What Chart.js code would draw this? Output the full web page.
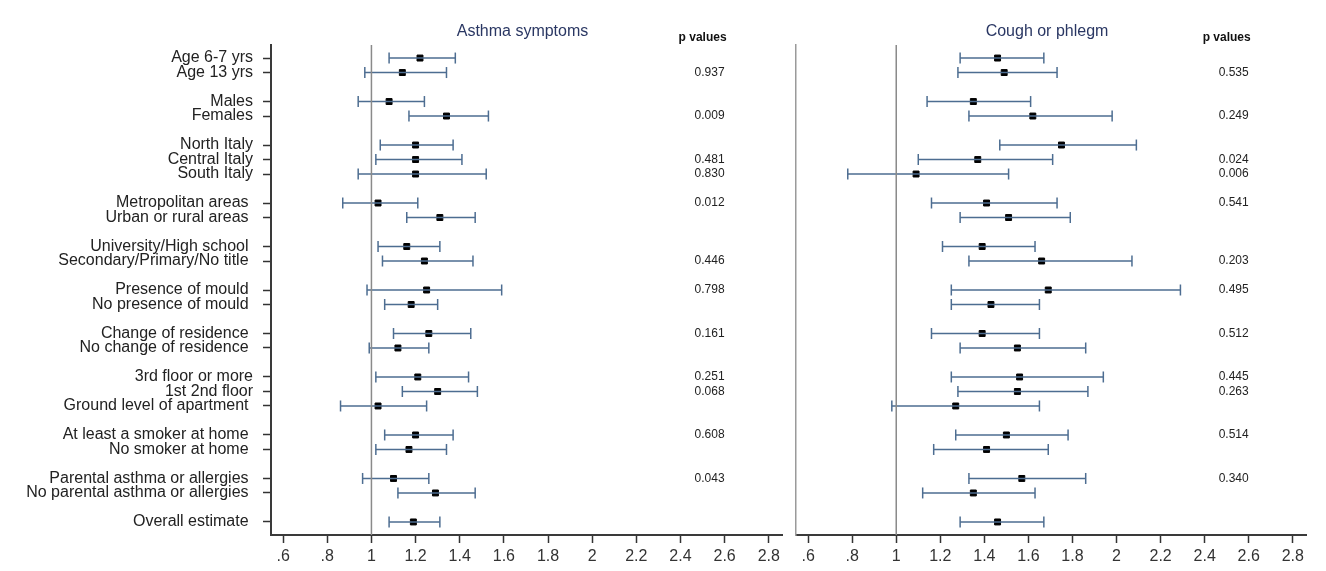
<!DOCTYPE html>
<html>
<head>
<meta charset="utf-8">
<script src="https://cdn.jsdelivr.net/npm/chart.js@4/dist/chart.umd.min.js"></script>
<style>
  body { margin: 0; background: #fff; }
  #wrap { position: relative; width: 1326px; height: 571px; }
  canvas { position: absolute; top: 0; }
  #left { left: 0; }
  #right { left: 789px; }
</style>
</head>
<body>
<div id="wrap">
  <canvas id="left" width="789" height="571"></canvas>
  <canvas id="right" width="537" height="571"></canvas>
</div>
<script>
// Row labels, grouped as in the figure (a blank row follows each group)
const groups = [
  ['Age 6-7 yrs', 'Age 13 yrs'],
  ['Males', 'Females'],
  ['North Italy', 'Central Italy', 'South Italy'],
  ['Metropolitan areas ', 'Urban or rural areas '],
  ['University/High school ', 'Secondary/Primary/No title '],
  ['Presence of mould ', 'No presence of mould '],
  ['Change of residence ', 'No change of residence '],
  ['3rd floor or more', '1st 2nd floor', 'Ground level of apartment '],
  ['At least a smoker at home ', 'No smoker at home '],
  ['Parental asthma or allergies ', 'No parental asthma or allergies '],
  ['Overall estimate ']
];

// Asthma symptoms: estimate and 95% CI
const asthmaEst = [1.22, 1.14, 1.08, 1.34, 1.20, 1.20, 1.20, 1.03, 1.31, 1.16, 1.24, 1.25, 1.18, 1.26, 1.12, 1.21, 1.30, 1.03, 1.20, 1.17, 1.10, 1.29, 1.19];
const asthmaLo  = [1.08, 0.97, 0.94, 1.17, 1.04, 1.02, 0.94, 0.87, 1.16, 1.03, 1.05, 0.98, 1.06, 1.10, 0.99, 1.02, 1.14, 0.86, 1.06, 1.02, 0.96, 1.12, 1.08];
const asthmaHi  = [1.38, 1.34, 1.24, 1.53, 1.37, 1.41, 1.52, 1.21, 1.47, 1.31, 1.46, 1.59, 1.30, 1.45, 1.26, 1.44, 1.48, 1.25, 1.37, 1.34, 1.26, 1.47, 1.31];
const asthmaP   = ['', '0.937', '', '0.009', '', '0.481', '0.830', '0.012', '', '', '0.446', '0.798', '', '0.161', '', '0.251', '0.068', '', '0.608', '', '0.043', '', ''];

// Cough or phlegm: estimate and 95% CI
const coughEst = [1.46, 1.49, 1.35, 1.62, 1.75, 1.37, 1.09, 1.41, 1.51, 1.39, 1.66, 1.69, 1.43, 1.39, 1.55, 1.56, 1.55, 1.27, 1.50, 1.41, 1.57, 1.35, 1.46];
const coughLo  = [1.29, 1.28, 1.14, 1.33, 1.47, 1.10, 0.78, 1.16, 1.29, 1.21, 1.33, 1.25, 1.25, 1.16, 1.29, 1.25, 1.28, 0.98, 1.27, 1.17, 1.33, 1.12, 1.29];
const coughHi  = [1.67, 1.73, 1.61, 1.98, 2.09, 1.71, 1.51, 1.73, 1.79, 1.63, 2.07, 2.29, 1.65, 1.65, 1.86, 1.94, 1.87, 1.65, 1.78, 1.69, 1.86, 1.63, 1.67];
const coughP   = ['', '0.535', '', '0.249', '', '0.024', '0.006', '0.541', '', '', '0.203', '0.495', '', '0.512', '', '0.445', '0.263', '', '0.514', '', '0.340', '', ''];

// x axis ticks
const xTicks = [0.6, 0.8, 1, 1.2, 1.4, 1.6, 1.8, 2, 2.2, 2.4, 2.6, 2.8];
const xTickLabels = ['.6', '.8', '1', '1.2', '1.4', '1.6', '1.8', '2', '2.2', '2.4', '2.6', '2.8'];

// work out a row slot for every label, leaving a gap between groups
const labels = [];
const slots = [];
let slot = 0;
groups.forEach(g => {
  g.forEach(l => { labels.push(l); slots.push(slot); slot++; });
  slot++;
});
const yMin = -0.9;
const yMax = slots[slots.length - 1] + 0.9;
const pAt = 2.6;

const ciColor = '#4d6d91';

function buildDatasets(est, lo, hi) {
  const sets = [];
  // reference line at 1
  sets.push({
    data: [{ x: 1, y: yMin }, { x: 1, y: yMax }],
    showLine: true,
    borderColor: '#8a8a8a',
    borderWidth: 1.5,
    pointRadius: 0
  });
  // confidence intervals with caps
  slots.forEach((s, i) => {
    sets.push({
      data: [{ x: lo[i], y: s }, { x: hi[i], y: s }],
      showLine: true,
      borderColor: ciColor,
      borderWidth: 1.5,
      pointStyle: 'line',
      rotation: 90,
      pointRadius: 5.5,
      pointBorderWidth: 1.5,
      pointBorderColor: ciColor
    });
  });
  // point estimates
  sets.push({
    data: slots.map((s, i) => ({ x: est[i], y: s })),
    pointStyle: 'rect',
    pointRadius: 4.2,
    pointBackgroundColor: '#000',
    pointBorderColor: '#000',
    pointBorderWidth: 1
  });
  return sets;
}

// titles and p values drawn onto the chart
function textPlugin(title, pvals) {
  return {
    id: 'texts',
    afterDraw(chart) {
      const ctx = chart.ctx;
      const xs = chart.scales.x;
      const ys = chart.scales.y;
      const area = chart.chartArea;
      ctx.save();
      ctx.textBaseline = 'middle';
      ctx.fillStyle = '#2a3763';
      ctx.font = '16px "Liberation Sans", Arial, sans-serif';
      ctx.textAlign = 'center';
      ctx.fillText(title, (area.left + area.right) / 2 - 4, 32);
      ctx.fillStyle = '#111';
      ctx.textAlign = 'right';
      ctx.font = 'bold 12px "Liberation Sans", Arial, sans-serif';
      ctx.fillText('p values', xs.getPixelForValue(pAt) + 2, 38);
      ctx.font = '12px "Liberation Sans", Arial, sans-serif';
      ctx.fillStyle = '#222';
      pvals.forEach((p, i) => {
        if (p) ctx.fillText(p, xs.getPixelForValue(pAt), ys.getPixelForValue(slots[i]));
      });
      ctx.restore();
    }
  };
}

function makeChart(id, est, lo, hi, pvals, title, showLabels) {
  return new Chart(document.getElementById(id), {
    type: 'scatter',
    data: { datasets: buildDatasets(est, lo, hi) },
    options: {
      responsive: false,
      animation: false,
      layout: { padding: { top: 45, right: showLabels ? 5 : 20, bottom: 0, left: 0 } },
      plugins: { legend: { display: false }, tooltip: { enabled: false } },
      scales: {
        x: {
          type: 'linear',
          min: 0.545,
          max: 2.86,
          afterBuildTicks: s => { s.ticks = xTicks.map(v => ({ value: v })); },
          afterFit: s => { s.height = 36; },
          ticks: {
            padding: 4,
            autoSkip: false,
            maxRotation: 0,
            color: '#333',
            font: { size: 16, family: '"Liberation Sans", Arial, sans-serif' },
            callback: (v, i) => xTickLabels[i]
          },
          grid: { drawOnChartArea: false, drawTicks: true, tickLength: 8, tickColor: '#333', tickWidth: 1.5 },
          border: { display: true, color: '#3a3a3a', width: 2 }
        },
        y: {
          type: 'linear',
          reverse: true,
          min: yMin,
          max: yMax,
          afterBuildTicks: s => { s.ticks = slots.map(v => ({ value: v })); },
          afterFit: s => { s.width = showLabels ? 271 : 5; },
          ticks: {
            display: showLabels,
            padding: 10,
            autoSkip: false,
            color: '#222',
            font: { size: 16, family: '"Liberation Sans", Arial, sans-serif' },
            callback: (v, i) => labels[i]
          },
          grid: { drawOnChartArea: false, drawTicks: showLabels, tickLength: 8, tickColor: '#333', tickWidth: 1.5 },
          border: { display: true, color: showLabels ? '#3a3a3a' : '#9a9a9a', width: showLabels ? 2 : 1.5 }
        }
      }
    },
    plugins: [textPlugin(title, pvals)]
  });
}

makeChart('left', asthmaEst, asthmaLo, asthmaHi, asthmaP, 'Asthma symptoms', true);
makeChart('right', coughEst, coughLo, coughHi, coughP, 'Cough or phlegm', false);
</script>
</body>
</html>
